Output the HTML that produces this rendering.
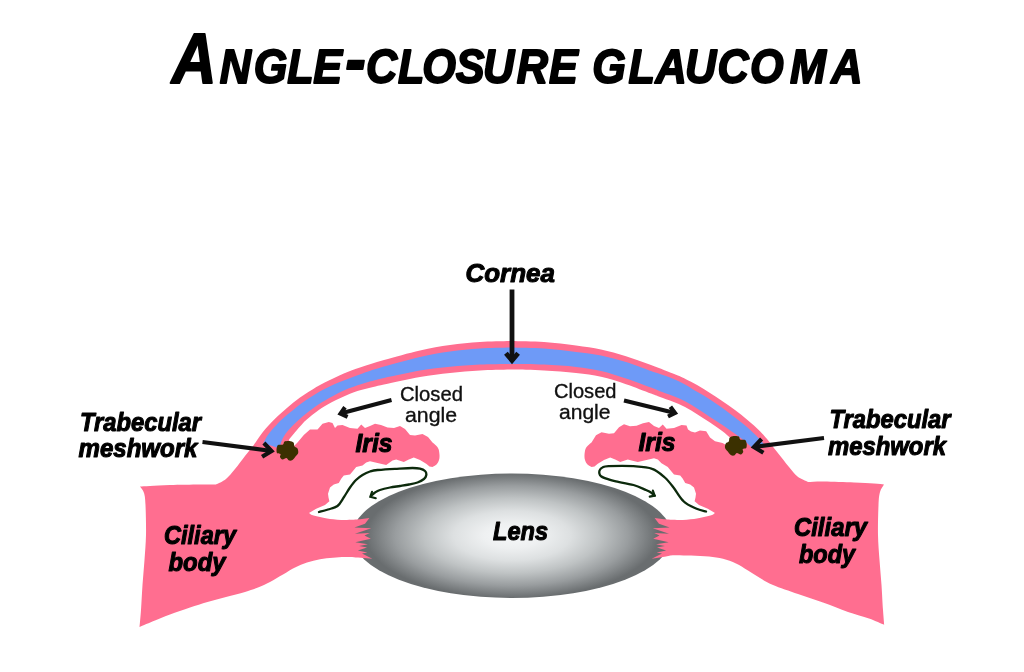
<!DOCTYPE html>
<html lang="en"><head><meta charset="utf-8"><title>ANGLE-CLOSURE GLAUCOMA</title>
<style>html,body{margin:0;padding:0;background:#fff}svg{display:block;will-change:transform}text{font-family:"Liberation Sans",sans-serif;fill:#000}.bi{font-weight:700;font-style:italic;stroke:#000;stroke-width:1.05px;stroke-linejoin:round}.ti{font-weight:700;font-style:italic;font-variant:small-caps}.rg{font-weight:400;font-style:normal;fill:#111;stroke:#111;stroke-width:0.35px}</style></head>
<body>
<svg width="1024" height="672" viewBox="0 0 1024 672" role="img" aria-label="ANGLE-CLOSURE GLAUCOMA"><defs><radialGradient id="lg" gradientUnits="userSpaceOnUse" cx="0" cy="0" r="1" gradientTransform="translate(512 535.7) scale(146 62.4)"><stop offset="0" stop-color="#f6f8f9"/><stop offset="0.2" stop-color="#eef0f1"/><stop offset="0.4" stop-color="#dde0e1"/><stop offset="0.6" stop-color="#bfc3c4"/><stop offset="0.8" stop-color="#999d9f"/><stop offset="1" stop-color="#696d6f"/></radialGradient></defs><rect width="1024" height="672" fill="#fff"/><ellipse cx="512" cy="535.7" rx="160" ry="62.2" fill="url(#lg)"/><g><path d="M512 341C506.7 341.2 490.3 341.3 480 342C469.7 342.7 460 343.6 450 345C440 346.4 431 348 420 350.5C409 353 394 357.2 384 360C374 362.8 366.7 365.2 360 367.5C353.3 369.8 349 371.3 343.8 373.5C338.5 375.7 334 378 328.8 380.6C323.5 383.2 317.3 386.6 312.5 389.4C307.7 392.2 304.2 394.5 300 397.5C295.8 400.5 291.7 404 287.5 407.5C283.3 411 279.2 414.6 275 418.8C270.8 422.9 266 428.1 262.5 432.5C259 436.9 256.7 441.1 253.8 445C250.8 448.9 248.1 452 245 456C241.9 460 238.2 465.2 235 469C231.8 472.8 229.2 476.4 226 479C222.8 481.6 217.7 483.6 216 484.5C213.3 484.5 207.7 484.4 200 484.5C192.3 484.6 178.3 484.8 170 485C161.7 485.2 155 485.8 150 486C145 486.2 141.7 486.4 140 486.5C140.7 487.6 143.1 489.9 144 493C144.9 496.1 145.2 498 145.5 505C145.8 512 146.2 525.8 146 535C145.8 544.2 145.1 551.7 144.5 560C143.9 568.3 143.1 576.7 142.5 585C141.9 593.3 141.5 603 141 610C140.5 617 139.8 624.2 139.5 627C142.1 625.9 149.9 622.6 155 620.5C160.1 618.4 164.2 616.7 170 614.5C175.8 612.3 183.8 609.6 190 607.5C196.2 605.4 201.5 603.8 207.5 602C213.5 600.2 219.8 598.7 226 597C232.2 595.3 239.7 593.6 245 592C250.3 590.4 253.8 589.2 258 587.5C262.2 585.8 265.8 584.2 270 582C274.2 579.8 278.8 576.9 283 574.5C287.2 572.1 291 569.5 295 567.5C299 565.5 302.8 563.9 307 562.5C311.2 561.1 315.7 560.1 320 559.3C324.3 558.5 328.8 558.2 333 557.8C337.2 557.4 340.8 557 345 557C349.2 557 355.8 557.4 358 557.5L372.3 558.7L362 553.6L367.4 552.4L357.8 550.5L367 547.6L359.2 546.1L367.9 544.2L355.3 542.2L370.8 538.8L364.5 535.6L369.8 533L354.9 533.8L371.3 528.2L354.4 527.6L365 523.7L369.4 518.1L360 519.3C357.5 519.4 350 520 345 520C340 520 334.2 519.5 330 519C325.8 518.5 323 517.7 320 517C317 516.3 313.8 515.7 312 515C310.2 514.3 309.5 513.3 309 513L316.2 508.8L325 505L329.4 501.2L328.5 497.5L328 493.8L330 487.5L333.8 484.4L338.8 483L341.2 478.8L343.8 475.6L350 474.4L353.8 470L356.2 466.9L362.5 465.6L366.2 462.5L370 461.2L377.5 463L386.2 465L392.5 460.6L396.2 459.4L403.8 461.9L408.8 459.4L413.8 457.5L420 460L426.2 463.8L429.5 466.5L432.5 467C433.2 466.6 435.4 465.7 436.5 464.5C437.6 463.3 438.5 461.6 439 460C439.5 458.4 439.6 456.8 439.5 455C439.4 453.2 439.1 450.6 438.5 449C437.9 447.4 437 446.6 436 445.5C435 444.4 433.1 443 432.5 442.5L428 437L422.5 434L415 435.5L410 435L405 429L400 426L394 428L387.5 427.5L381 425L375 423.8L370 426L365 428L361.2 424.4L357.5 428.8L350 428L342.5 425L337.5 425.6L335 428L332.5 423L328.8 421.9L322.5 423.8L317.5 429.4L310 429.4L303.8 435L297.5 442.5L293 447L288.8 440C289.6 439 291.9 436 293.8 433.8C295.6 431.5 297.9 428.8 300 426.5C302.1 424.2 303.1 422.8 306.2 420C309.4 417.2 314.6 412.9 318.8 410C322.9 407.1 326 405.2 331.2 402.5C336.5 399.8 344.4 396 350 393.8C355.6 391.5 359.3 390.5 365 389C370.7 387.5 374.8 386.5 384 384.5C393.2 382.5 409 378.9 420 377C431 375.1 440 374.1 450 373C460 371.9 469.7 371.1 480 370.5C490.3 369.9 506.7 369.7 512 369.5Z" fill="#ff6e90"/><path d="M512 347.5C506.7 347.7 490.3 347.8 480 348.5C469.7 349.2 460 350.1 450 351.5C440 352.9 431 354.5 420 357C409 359.5 393.6 363.8 384 366.5C374.4 369.2 369.2 371.1 362.5 373.5C355.8 375.9 350 378.1 343.8 380.6C337.5 383.1 331.2 385.5 325 388.8C318.8 392 311.5 396.6 306.2 400C301 403.4 297.9 406.1 293.8 409.4C289.6 412.7 285.4 415.9 281.2 420C277.1 424.1 271.7 429.9 268.8 433.8C265.8 437.6 264.4 441.5 263.5 443L279.5 448.5C279.9 447.1 280.7 442.9 282 440C283.3 437.1 284.5 434.8 287.5 431.2C290.5 427.7 295.8 422.5 300 418.8C304.2 415 308.3 411.8 312.5 408.8C316.7 405.7 319.8 403.6 325 400.6C330.2 397.6 337.5 393.4 343.8 390.6C350 387.8 355.8 385.9 362.5 383.8C369.2 381.6 374.4 380.2 384 378C393.6 375.8 409 372.4 420 370.5C431 368.6 440 367.8 450 366.8C460 365.8 469.7 365.1 480 364.6C490.3 364.1 506.7 364.1 512 364Z" fill="#6e9af7"/><path d="M276.5 449C276.8 448.3 276.9 445.8 278 445C279.1 444.2 281.9 445.1 283 444.5C284.1 443.9 283.4 442.1 284.5 441.5C285.6 440.9 288 440.8 289.5 441C291 441.2 292.7 441.6 293.5 442.5C294.3 443.4 293.8 445.5 294.5 446.5C295.2 447.5 296.9 447.4 297.5 448.5C298.1 449.6 298.5 451.7 298.2 453C297.9 454.3 296.4 455.3 295.5 456.5C294.6 457.7 293.6 459.3 292.5 460C291.4 460.7 290 460.8 289 460.5C288 460.2 287.6 458.2 286.5 458C285.4 457.8 283.6 459.7 282.5 459.5C281.4 459.3 280.3 457.9 280 457C279.7 456.1 281 454.7 280.5 454C280 453.3 277.7 453.8 277 453C276.3 452.2 276.6 449.7 276.5 449Z" fill="#3b3000"/><path d="M319 512C320.5 511.6 324.9 510.5 328 509.5C331.1 508.5 334.8 508.1 337.5 506C340.2 503.9 341.9 500.1 344 497C346.1 493.9 348 490.3 350 487.5C352 484.7 353.9 482.1 356 480C358.1 477.9 360.2 476.4 362.5 475C364.8 473.6 367.5 472.3 370 471.5C372.5 470.7 373.3 470.4 377.5 470C381.7 469.6 389.2 469.1 395 468.8C400.8 468.5 408.3 468 412.5 468C416.7 468 417.9 468.1 420 468.6C422.1 469.1 423.9 469.9 425 471C426.1 472.1 426.5 473.7 426.3 475C426.1 476.3 425.5 477.8 424 479C422.5 480.2 420 481.6 417.5 482.5C415 483.4 411.9 483.9 409 484.5C406.1 485.1 403.2 485.5 400 486C396.8 486.5 393.3 486.8 390 487.5C386.7 488.2 382.5 489.2 380 490C377.5 490.8 376.5 491.5 375 492.5C373.5 493.5 371.7 495.4 371 496" fill="none" stroke="#0c2a0c" stroke-width="2.3" stroke-linecap="round"/><path d="M372 491.8L370.3 496.7L375.8 498.2" fill="none" stroke="#0c2a0c" stroke-width="2.1" stroke-linecap="round" stroke-linejoin="miter"/></g><g transform="translate(1024 0) scale(-1 1)"><path d="M512 341C506.7 341.2 490.7 341.2 480 342C469.3 342.8 457.5 344.3 448 345.6C438.5 346.9 431.3 347.8 423 349.6C414.7 351.4 406.3 353.7 398 356.2C389.7 358.8 381.3 361.9 373 365C364.7 368.1 353.7 372.5 348 374.8C342.3 377.1 342.6 377 339 378.7C335.4 380.4 330.7 382.8 326.5 385.2C322.3 387.6 318.2 390.3 314 393C309.8 395.7 305.7 398.4 301.5 401.2C297.3 404.1 293.2 406.9 289 410C284.8 413.1 280.7 416.5 276.5 420C272.3 423.5 267.5 427.7 264 431.2C260.5 434.8 258.2 437.7 255.2 441.2C252.3 444.8 249.9 448.2 246.5 452.5C243.1 456.8 238.3 463 235 467C231.7 471 229.7 474 226.5 476.5C223.3 479 217.8 481.1 216 482C213.3 481.9 207.7 481.4 200 481.5C192.3 481.6 178.3 482.2 170 482.5C161.7 482.8 155 483.2 150 483.5C145 483.8 141.7 484.3 140 484.5C140.7 485.8 143.1 488.6 144 492C144.9 495.4 145.2 497.8 145.5 505C145.8 512.2 146.2 525.8 146 535C145.8 544.2 145.1 551.7 144.5 560C143.9 568.3 143.1 576.7 142.5 585C141.9 593.3 141.5 603.4 141 610C140.5 616.6 140 622.3 139.8 624.8C142.3 623.8 149 620.6 155 618.5C161 616.4 168.3 614.7 176 612C183.7 609.3 192.7 605.5 201 602.5C209.3 599.5 217.7 596.9 226 594C234.3 591.1 244.7 587.7 251 585C257.3 582.3 259.8 580.4 264 578C268.2 575.6 272 572.9 276 570.5C280 568.1 283.8 565.5 288 563.5C292.2 561.5 296.5 559.9 301 558.8C305.5 557.6 309.7 557 315 556.5C320.3 556 327 555.7 333 555.5C339 555.3 346.8 555 351 555.2C355.2 555.4 356.8 556.3 358 556.5L372.3 558.7L362 553.6L367.4 552.4L357.8 550.5L367 547.6L359.2 546.1L367.9 544.2L355.3 542.2L370.8 538.8L364.5 535.6L369.8 533L354.9 533.8L371.3 528.2L354.4 527.6L365 523.7L369.4 518.1L360 519.3C357.5 519.4 350 520 345 520C340 520 334.2 519.5 330 519C325.8 518.5 323 517.7 320 517C317 516.3 313.8 515.7 312 515C310.2 514.3 309.5 513.3 309 513L316.2 508.8L325 505L329.4 501.2L328.5 497.5L328 493.8L330 487.5L333.8 484.4L338.8 483L341.2 478.8L343.8 475.6L350 474.4L353.8 470L356.2 466.9L362.5 463.2L366.2 459.5L370 458.2L377.5 460L386.2 462L392.5 460.6L396.2 459.4L403.8 461.9L408.8 459.4L413.8 457.5L420 460L426.2 463.8L429.5 466.5L432.5 467C433.2 466.6 435.4 465.7 436.5 464.5C437.6 463.3 438.5 461.6 439 460C439.5 458.4 439.6 456.8 439.5 455C439.4 453.2 439.1 450.6 438.5 449C437.9 447.4 437 446.6 436 445.5C435 444.4 433.1 443 432.5 442.5L428 435.3L422.5 432.3L415 433.8L410 433.3L405 427.3L400 424.3L394 426.3L387.5 425.8L381 423.3L375 422.1L370 426L365 428L361.2 424.4L357.5 428.8L350 428L342.5 425L337.5 425.6L336 429.4L333 431.5L329 432.5L324 430.6L317.8 431.2L314 437.5L309 441.2L301.5 443L297.8 445L293 447L289 442C289.8 441.2 291.9 439.3 294 437.5C296.1 435.7 298.2 433.8 301.5 431.2C304.8 428.8 309.8 425.3 314 422.5C318.2 419.7 322.3 417 326.5 414.4C330.7 411.8 334.8 409.1 339 407C343.2 404.9 347.3 403.3 351.5 401.6C355.7 399.9 360.4 398.4 364 397C367.6 395.6 367.3 395.6 373 393.5C378.7 391.4 389.7 387 398 384.2C406.3 381.4 414.7 378.7 423 376.8C431.3 374.9 438.5 374.1 448 373C457.5 371.9 469.3 371.1 480 370.5C490.7 369.9 506.7 369.7 512 369.5Z" fill="#ff6e90"/><path d="M512 347.5C506.7 347.7 490.7 347.8 480 348.5C469.3 349.2 457.5 350.7 448 351.9C438.5 353.1 431.3 353.8 423 355.5C414.7 357.2 406.3 359.4 398 362C389.7 364.6 378.7 369 373 371C367.3 373 367.6 372.8 364 374C360.4 375.2 355.7 376.8 351.5 378.5C347.3 380.2 343.2 382.1 339 384.4C334.8 386.6 330.7 389.5 326.5 392C322.3 394.5 318.2 396.7 314 399.4C309.8 402.1 305.7 405 301.5 408C297.3 411 293.2 414.2 289 417.5C284.8 420.8 280.2 424.2 276.5 427.5C272.8 430.8 269.2 434.3 266.5 437C263.8 439.7 261.3 442.6 260.2 443.8L272.8 447C273.8 446 276.3 443.5 279 441.2C281.7 439 285.2 436.5 289 433.8C292.8 431 297.3 427.8 301.5 425C305.7 422.2 309.8 419.7 314 417C318.2 414.3 322.3 411.4 326.5 408.8C330.7 406.1 334.8 403.4 339 401.2C343.2 399.1 347.3 397.5 351.5 395.8C355.7 394.1 360.4 392.6 364 391.2C367.6 389.8 367.3 389.7 373 387.6C378.7 385.5 389.7 381.3 398 378.5C406.3 375.7 414.7 372.9 423 371C431.3 369.1 438.5 368 448 366.9C457.5 365.8 469.3 365.1 480 364.6C490.7 364.1 506.7 364.1 512 364Z" fill="#6e9af7"/><path d="M277.2 444C277.5 443.3 277.7 440.8 278.8 440C279.8 439.2 282.7 440.1 283.8 439.5C284.8 438.9 284.2 437.1 285.2 436.5C286.3 435.9 288.8 435.8 290.2 436C291.8 436.2 293.4 436.6 294.2 437.5C295.1 438.4 294.6 440.5 295.2 441.5C295.9 442.5 297.6 442.4 298.2 443.5C298.9 444.6 299.3 446.7 298.9 448C298.6 449.3 297.2 450.3 296.2 451.5C295.3 452.7 294.3 454.3 293.2 455C292.2 455.7 290.8 455.8 289.8 455.5C288.8 455.2 288.3 453.2 287.2 453C286.2 452.8 284.3 454.7 283.2 454.5C282.2 454.3 281.1 452.9 280.8 452C280.4 451.1 281.8 449.7 281.2 449C280.8 448.3 278.4 448.8 277.8 448C277.1 447.2 277.3 444.7 277.2 444Z" fill="#3b3000"/><path d="M318 511.5C319.7 511 324.2 510.2 328 508.5C331.8 506.8 336.8 504.8 340.5 501.2C344.2 497.8 347.4 491.5 350.5 487.5C353.6 483.5 355.7 480.6 359.2 477.5C362.8 474.4 366.5 470.6 371.8 468.8C377 466.9 383.2 466.7 390.5 466.2C397.8 465.8 410.3 466 415.5 466.2C420.7 466.5 420 466.9 421.5 467.5C423 468.1 423.7 469 424.2 470C424.8 471 424.8 472.5 424.6 473.5C424.4 474.5 424.4 475.3 423 476.2C421.6 477.2 418.3 478.4 416 479.2C413.7 480 413.5 480.3 409.2 481.2C405 482.2 395.7 483.5 390.5 485C385.3 486.5 380.9 488.8 378 490C375.1 491.2 374.4 491.6 373 492.5C371.6 493.4 369.9 495.1 369.3 495.6" fill="none" stroke="#0c2a0c" stroke-width="2.3" stroke-linecap="round"/><path d="M371.1 490.6L369.3 495.6L374.3 496.6" fill="none" stroke="#0c2a0c" stroke-width="2.1" stroke-linecap="round" stroke-linejoin="miter"/></g><g fill="none" stroke="#111111" stroke-linecap="butt"><path d="M512 289.5L512 360.5" stroke-width="4.8"/><path d="M505.9 353.2L512 360.5L518.1 353.2" stroke-width="4.8" stroke-linejoin="miter"/><path d="M202.5 442L271.5 451" stroke-width="4.2"/><path d="M262.1 456.8L271.5 451L263.9 443" stroke-width="4.2" stroke-linejoin="miter"/><path d="M824 438L754 447" stroke-width="4.2"/><path d="M761.6 439L754 447L763.4 452.8" stroke-width="4.2" stroke-linejoin="miter"/><path d="M391.5 400L340.5 413.6" stroke-width="4.1"/><path d="M345 407.2L340.5 413.6L347.6 416.9" stroke-width="4.1" stroke-linejoin="miter"/><path d="M624 400.4L675 413.1" stroke-width="4.1"/><path d="M668 416.5L675 413.1L670.4 406.8" stroke-width="4.1" stroke-linejoin="miter"/></g><text transform="scale(0.89 1)" x="192.9 246.8 285.1 322.7 352 387.8 411.2 447.1 474.4 512 542.8 580.7 616.8 646.8 665.4 706.1 736.5 769.6 806.3 842.6 887.6 933.9" y="82.6" font-size="69.5" class="ti" stroke="#000" stroke-width="1.9" stroke-linejoin="round">Angle-closure glaucoma</text><text x="465.5" y="281.8" font-size="26.5" class="bi" text-anchor="start" textLength="89.5" lengthAdjust="spacingAndGlyphs">Cornea</text><text x="80" y="430.5" font-size="25.2" class="bi" text-anchor="start" textLength="121" lengthAdjust="spacingAndGlyphs">Trabecular</text><text x="78.5" y="457" font-size="25.2" class="bi" text-anchor="start" textLength="119" lengthAdjust="spacingAndGlyphs">meshwork</text><text x="829.5" y="428" font-size="25.2" class="bi" text-anchor="start" textLength="121" lengthAdjust="spacingAndGlyphs">Trabecular</text><text x="828" y="455" font-size="25.2" class="bi" text-anchor="start" textLength="118" lengthAdjust="spacingAndGlyphs">meshwork</text><text x="164" y="544" font-size="25.2" class="bi" text-anchor="start" textLength="72" lengthAdjust="spacingAndGlyphs">Ciliary</text><text x="168.5" y="571.3" font-size="25.2" class="bi" text-anchor="start" textLength="57" lengthAdjust="spacingAndGlyphs">body</text><text x="794" y="535.7" font-size="25.2" class="bi" text-anchor="start" textLength="73" lengthAdjust="spacingAndGlyphs">Ciliary</text><text x="799" y="562.6" font-size="25.2" class="bi" text-anchor="start" textLength="56" lengthAdjust="spacingAndGlyphs">body</text><text x="355.5" y="452" font-size="25.2" class="bi" text-anchor="start" textLength="37" lengthAdjust="spacingAndGlyphs">Iris</text><text x="638.5" y="450.6" font-size="25.2" class="bi" text-anchor="start" textLength="37" lengthAdjust="spacingAndGlyphs">Iris</text><text x="493" y="540" font-size="25.2" class="bi" text-anchor="start" textLength="55" lengthAdjust="spacingAndGlyphs">Lens</text><text x="400" y="400.7" font-size="20.7" class="rg" text-anchor="start" textLength="63" lengthAdjust="spacingAndGlyphs">Closed</text><text x="405" y="421.6" font-size="20.7" class="rg" text-anchor="start" textLength="52" lengthAdjust="spacingAndGlyphs">angle</text><text x="554" y="397.6" font-size="20.7" class="rg" text-anchor="start" textLength="62.5" lengthAdjust="spacingAndGlyphs">Closed</text><text x="559" y="418.6" font-size="20.7" class="rg" text-anchor="start" textLength="51.5" lengthAdjust="spacingAndGlyphs">angle</text></svg>
</body></html>
